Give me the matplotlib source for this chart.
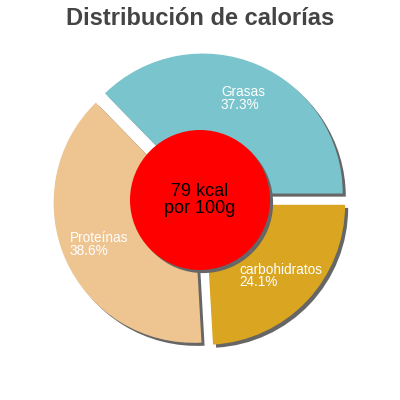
import matplotlib
matplotlib.use("Agg")
import matplotlib.pyplot as plt
import numpy as np

plt.rcParams['font.family'] = ['Liberation Sans', 'DejaVu Sans']

labels = ['Grasas', 'Proteínas', 'carbohidratos']
values = [37.3, 38.6, 24.1]
colors = ['#7AC5CD', '#EEC591', '#DAA520']
title = 'Distribución de calorías'
center_text = '79 kcal\npor 100g'

fig = plt.figure(figsize=(4, 4), dpi=100)
ax = fig.add_axes([0, 0, 1, 1])
lim = 200 / 140

explode = [0.05] * len(values)
sh = 0.022

# shadow pie
ax.pie(values, explode=explode, startangle=0, counterclock=True,
       colors=['#666666'] * len(values), center=(sh, -sh),
       wedgeprops=dict(linewidth=0), frame=True)
# main pie
ax.pie(values, explode=explode, startangle=0, counterclock=True,
       colors=colors, wedgeprops=dict(linewidth=0), frame=True)

ax.set_xlim(-lim, lim)
ax.set_ylim(-lim, lim)
ax.set_aspect('equal')
ax.axis('off')

# labels
cum = np.cumsum([0] + values[:-1])
for lab, v, c0 in zip(labels, values, cum):
    ang = np.deg2rad((c0 + v / 2) / 100 * 360)
    ax.text(0.79 * np.cos(ang), 0.79 * np.sin(ang), '%s\n%.1f%%' % (lab, v),
            ha='center', va='center', multialignment='left',
            color='white', fontsize=9.8, linespacing=0.9)

# centre disc
ax.add_patch(plt.Circle((sh, -sh), 0.5, color='#666666', lw=0))
ax.add_patch(plt.Circle((0, 0), 0.5, color='#FF0000', lw=0))
ax.text(0, 0, center_text, ha='center', va='center', fontsize=13,
        color='black', linespacing=1.0)

fig.text(0.5, 1 - 7 / 400, title, ha='center', va='top', fontsize=17,
         fontweight='bold', color='#444444')

fig.savefig('out.png', dpi=100)
